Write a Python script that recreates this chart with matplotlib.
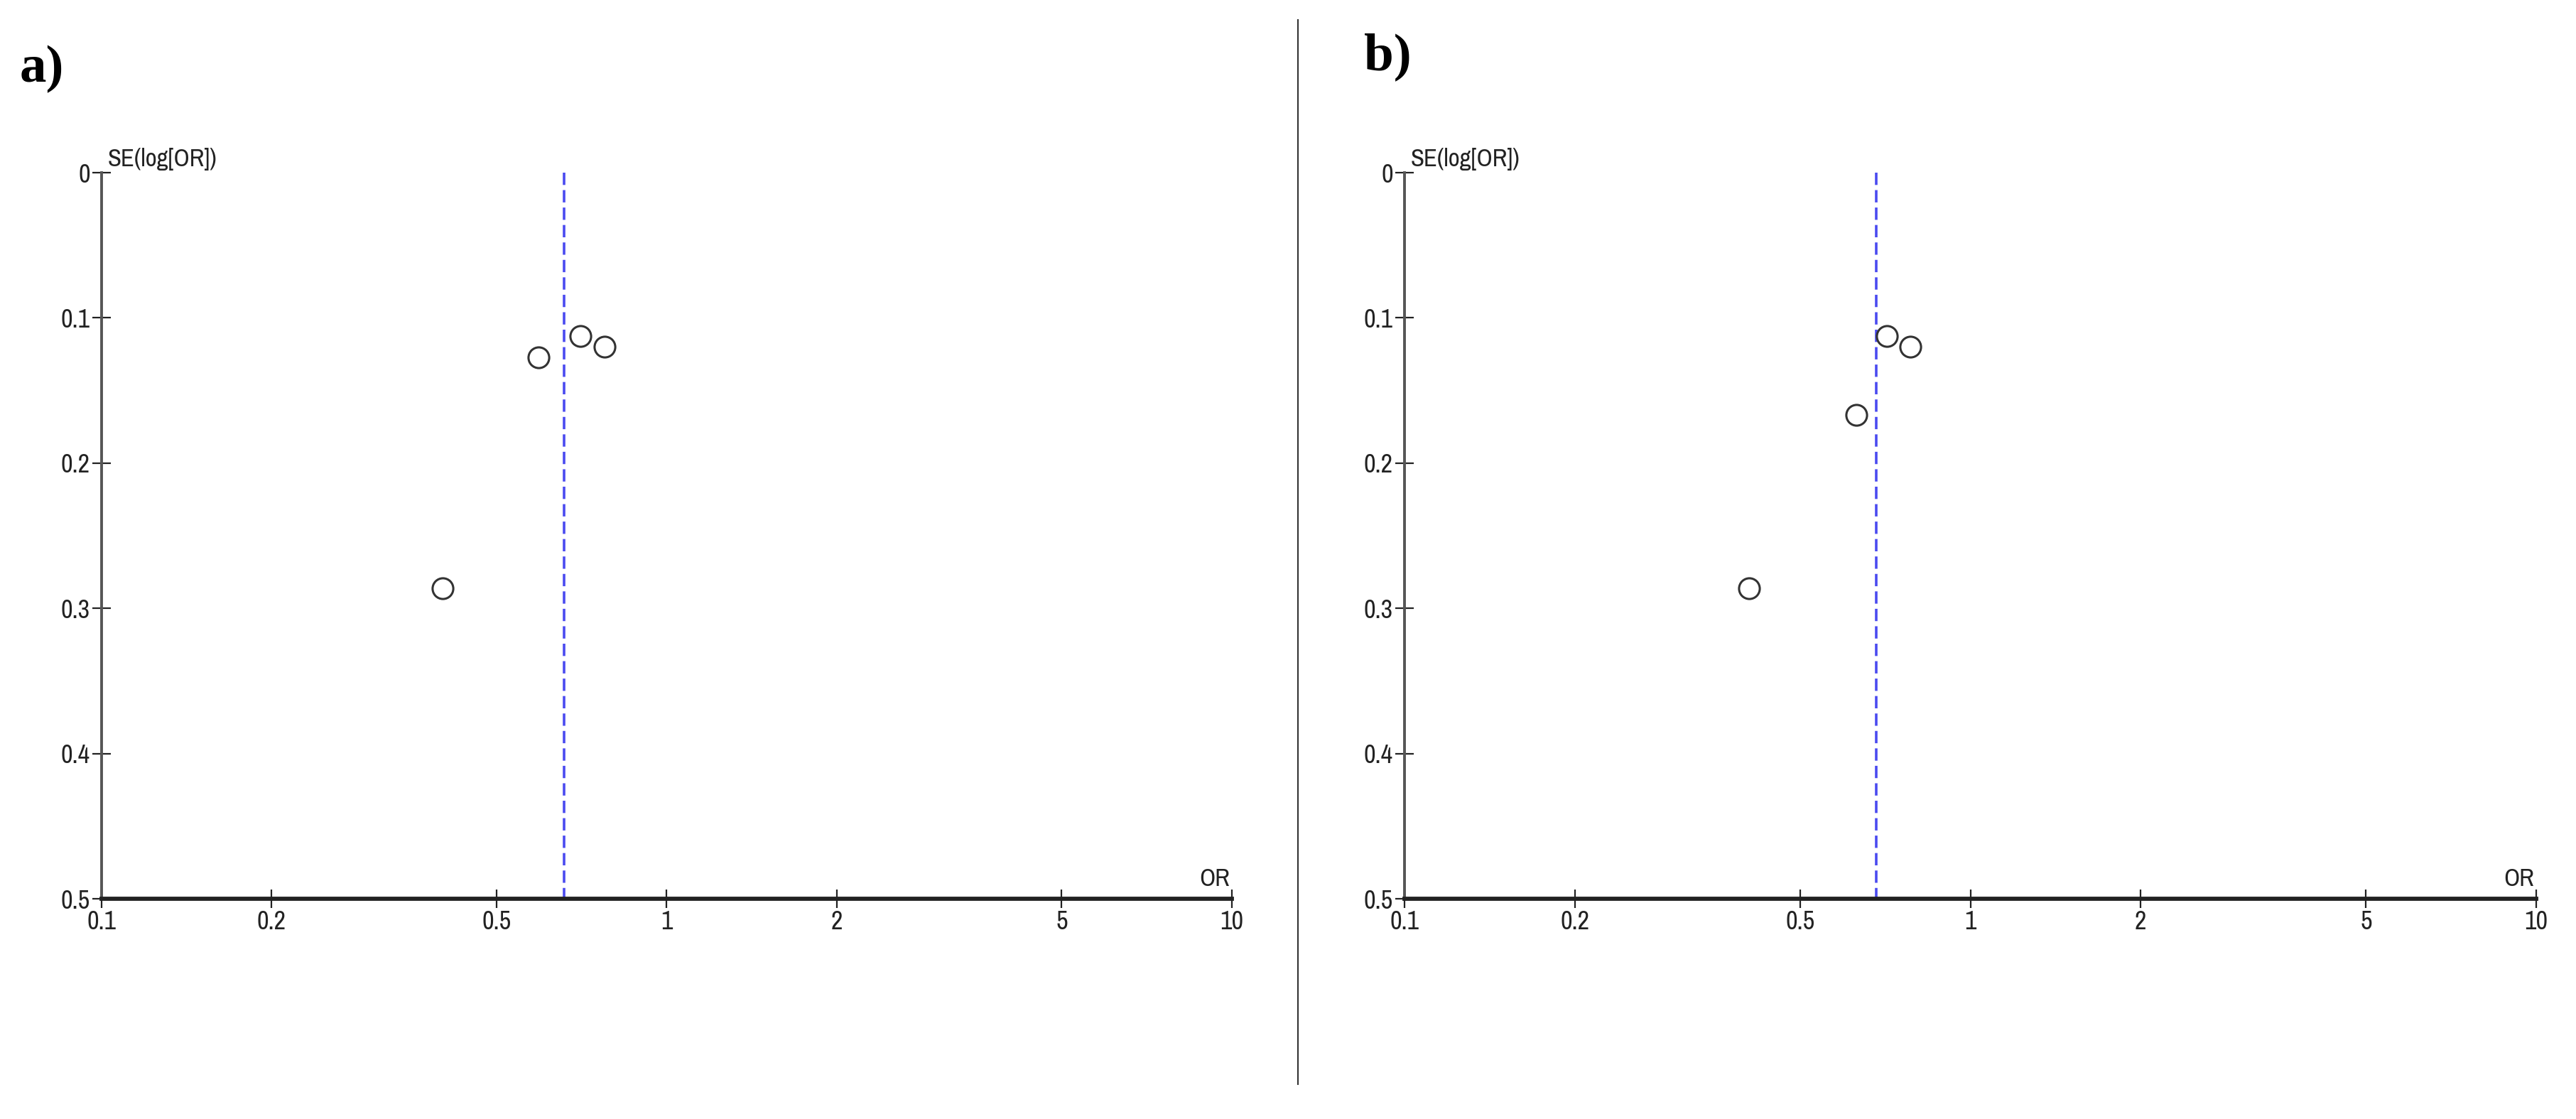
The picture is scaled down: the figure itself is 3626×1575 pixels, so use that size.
import matplotlib.pyplot as plt
from matplotlib.lines import Line2D

# funnel plot data
or_a = [0.594, 0.703, 0.776, 0.401]
se_a = [0.127, 0.1125, 0.120, 0.286]
pooled_a = 0.658

or_b = [0.629, 0.711, 0.783, 0.406]
se_b = [0.167, 0.1125, 0.120, 0.286]
pooled_b = 0.682

x_ticks = [0.1, 0.2, 0.5, 1, 2, 5, 10]
x_labels = ['0.1', '0.2', '0.5', '1', '2', '5', '10']
y_ticks = [0, 0.1, 0.2, 0.3, 0.4, 0.5]
y_labels = ['0', '0.1', '0.2', '0.3', '0.4', '0.5']

# narrow sans if there is one, plain Arial-like otherwise
tick_font = ['Liberation Sans Narrow', 'Arial Narrow', 'Archivo Narrow',
             'PT Sans Narrow', 'Roboto Condensed', 'Liberation Sans']


def funnel(ax, ors, ses, pooled):
    ax.set_xscale('log')
    ax.set_xlim(0.1, 10)
    ax.set_ylim(0.5, 0)
    ax.plot([pooled, pooled], [0, 0.5], color='#4a4af0', lw=2.6,
            dashes=[4.8, 2.0], zorder=2, clip_on=False)
    ax.plot(ors, ses, 'o', ms=21, mfc='none', mec='#333333', mew=2.2,
            zorder=3, clip_on=False)
    for s in ['top', 'right']:
        ax.spines[s].set_visible(False)
    ax.spines['left'].set_color('#555555')
    ax.spines['left'].set_linewidth(2.8)
    ax.spines['bottom'].set_color('#222222')
    ax.spines['bottom'].set_linewidth(4.2)
    ax.set_xticks(x_ticks)
    ax.set_xticklabels(x_labels)
    ax.minorticks_off()
    ax.set_yticks(y_ticks)
    ax.set_yticklabels(y_labels)
    ax.tick_params(axis='both', direction='inout', length=19, width=1.6,
                   color='#222222', pad=2, labelsize=26)
    for lab in ax.get_xticklabels() + ax.get_yticklabels():
        lab.set_family(tick_font)
        lab.set_color('#222222')
    ax.annotate('SE(log[OR])', xy=(0, 1), xycoords='axes fraction',
                xytext=(6, 2), textcoords='offset points', ha='left',
                va='bottom', fontsize=25, family=tick_font, color='#222222')
    ax.annotate('OR', xy=(1, 0), xycoords='axes fraction',
                xytext=(-2, 9), textcoords='offset points', ha='right',
                va='bottom', fontsize=25, family=tick_font, color='#222222')


fig = plt.figure(figsize=(36.26, 15.75), dpi=100)
ax1 = fig.add_axes([0.0394, 0.1968, 0.4388, 0.6489])
ax2 = fig.add_axes([0.5452, 0.1968, 0.4394, 0.6489])
funnel(ax1, or_a, se_a, pooled_a)
funnel(ax2, or_b, se_b, pooled_b)

fig.text(0.0075, 0.938, 'a)', fontsize=54, fontweight='bold',
         family='Liberation Serif', va='center', ha='left')
fig.text(0.5295, 0.949, 'b)', fontsize=54, fontweight='bold',
         family='Liberation Serif', va='center', ha='left')

fig.add_artist(Line2D([0.5038, 0.5038], [0.031, 0.982], color='#333333',
                      lw=1.5, transform=fig.transFigure))

fig.savefig('out.png', dpi=100)
